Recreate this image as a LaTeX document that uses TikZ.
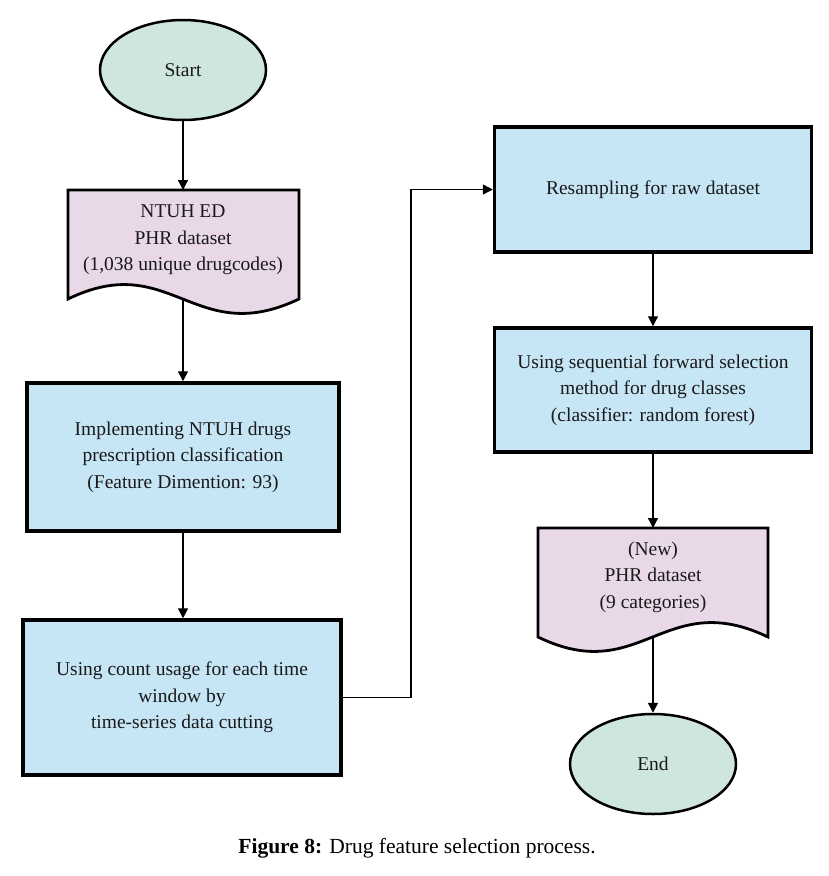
\documentclass[tikz,border=0pt]{standalone}
\usepackage{fontspec}
\setmainfont{Liberation Serif}
\usetikzlibrary{arrows.meta,shapes.geometric}
\definecolor{boxblue}{RGB}{199,230,245}
\definecolor{docpink}{RGB}{232,216,232}
\definecolor{termgreen}{RGB}{207,230,222}
\begin{document}
\begin{tikzpicture}[x=1pt,y=-1pt,
  txt/.style={align=center,font=\fontsize{19.5}{26.5}\selectfont,text=black!90},
  procbox/.style={txt,draw=black,line width=3.5pt,fill=boxblue,rectangle,inner sep=0pt},
  term/.style={txt,draw=black,line width=2.5pt,fill=termgreen,ellipse,inner sep=0pt,minimum width=166pt,minimum height=100pt},
  docline/.style={draw=black,line width=2.8pt,fill=docpink,line join=miter},
  conn/.style={draw=black,line width=1.4pt,-{Triangle[length=10pt,width=10pt]}},
  plain/.style={draw=black,line width=1.4pt}]
\useasboundingbox (0,0) rectangle (829,876);
% Start
\node[term] (start) at (183,70) {Start};
% Document 1
\path[docline] (68,190) -- (299,190) -- (299,299)
  .. controls (194,349) and (171,249) .. (68,299) -- cycle;
\node[txt] (doc1) at (183,240) {NTUH ED\\PHR dataset\\(1,038 unique drugcodes)};
\coordinate (doc1b) at (183,300);
% Rect 1
\node[procbox,minimum width=312pt,minimum height=148pt] (r1) at (183,457) {Implementing NTUH drugs\\prescription classification\\(Feature Dimention: 93)};
% Rect 2
\node[procbox,minimum width=318pt,minimum height=155pt] (r2) at (182,697.5) {Using count usage for each time\\window by\\time-series data cutting};
% Rect 3
\node[procbox,minimum width=317pt,minimum height=125pt] (r3) at (653,189.5) {Resampling for raw dataset};
% Rect 4
\node[procbox,minimum width=317pt,minimum height=124pt] (r4) at (653,390) {Using sequential forward selection\\method for drug classes\\(classifier: random forest)};
% Document 2
\path[docline] (538,528) -- (768,528) -- (768,637)
  .. controls (664,587) and (641,687) .. (538,637) -- cycle;
\node[txt] (doc2) at (653,577) {(New)\\PHR dataset\\(9 categories)};
\coordinate (doc2b) at (653,638);
\coordinate (doc2t) at (653,528);
\coordinate (doc1t) at (183,190);
% End
\node[term] (end) at (653,764) {End};
% connectors
\draw[conn] (start.south) -- (doc1t);
\draw[conn] (doc1b) -- (r1.north);
\draw[conn] (r1.south) -- (r1.south |- r2.north);
\coordinate (bend) at (411,697.5);
\draw[conn] (r2.east) -- (bend) |- (r3.west);
\draw[conn,line width=1.2pt] (r3.south) -- (r4.north);
\draw[conn,line width=1.2pt] (r4.south) -- (doc2t);
\draw[conn] (doc2b) -- (end.north);
% caption
\node[font=\fontsize{21.5}{26}\selectfont,anchor=base] (cap) at (417,853) {\textbf{Figure 8:} Drug feature selection process.};
\end{tikzpicture}
\end{document}
